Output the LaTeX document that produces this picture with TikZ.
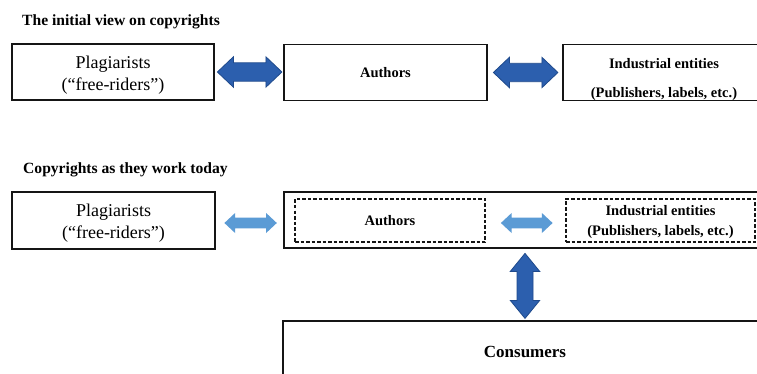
\documentclass[tikz,border=0pt]{standalone}
\usepackage{fontspec}
\setmainfont{Liberation Serif}
\usetikzlibrary{calc}
\definecolor{boxline}{HTML}{151515}
\definecolor{darkarr}{HTML}{2C5FAE}
\definecolor{darkarrline}{HTML}{1F4A8C}
\definecolor{lightarr}{HTML}{5B9BD5}
% horizontal double block arrow: #1 style, #2 left tip, #3 length, #4 head length, #5 head half width, #6 shaft half width
\newcommand{\hdblarrow}[6]{%
  \path[#1] (#2) -- ++(#4,-#5) -- ++(0,{#5-#6}) -- ++({#3-2*#4},0) -- ++(0,{-(#5-#6)})
    -- ++(#4,#5) -- ++(-#4,#5) -- ++(0,{-(#5-#6)}) -- ++({-(#3-2*#4)},0) -- ++(0,{#5-#6}) -- cycle;}
% vertical double block arrow: #2 top tip
\newcommand{\vdblarrow}[6]{%
  \path[#1] (#2) -- ++(-#5,#4) -- ++({#5-#6},0) -- ++(0,{#3-2*#4}) -- ++({-(#5-#6)},0)
    -- ++(#5,#4) -- ++(#5,-#4) -- ++({-(#5-#6)},0) -- ++(0,{-(#3-2*#4)}) -- ++({#5-#6},0) -- cycle;}
\begin{document}
\begin{tikzpicture}[x=1pt,y=-1pt,
  box/.style={draw=boxline, line width=1.8pt, inner sep=0pt, fill=white},
  dbox/.style={draw=boxline, line width=1.8pt, inner sep=0pt, dash pattern=on 3.5pt off 2pt},
  title/.style={font=\bfseries\fontsize{15.6}{18}\selectfont, inner sep=0pt, anchor=base west},
  regtxt/.style={font=\fontsize{18}{22}\selectfont, align=center, inner sep=0pt},
  boldtxt/.style={font=\bfseries\fontsize{14.5}{20}\selectfont, align=center, inner sep=0pt},
  darkfill/.style={fill=darkarr, draw=darkarrline, line width=0.8pt, line join=miter},
  lightfill/.style={fill=lightarr}
]
\clip (0,0) rectangle (757,374);
\fill[white] (0,0) rectangle (757,374);

% titles
\node[title] (t1) at (22,26) {The initial view on copyrights};
\node[title] (t2) at (23,174) {Copyrights as they work today};

% top row
\node[box, minimum width=202, minimum height=56] (pl1) at (113,72) {};
\node[regtxt] (pl1t) at ($(pl1.center)+(0,3.5)$) {Plagiarists\\(“free-riders”)};
\node[box, minimum width=203, minimum height=56] (au1) at (385.5,72.5) {};
\node[boldtxt] (au1t) at (au1.center) {Authors};
\node[box, minimum width=202, minimum height=56] (in1) at (664,72.5) {};
\node[boldtxt, font=\bfseries\fontsize{14.5}{29}\selectfont] (in1t) at ($(in1.center)+(0,7.5)$) {Industrial entities\\(Publishers, labels, etc.)};

\hdblarrow{darkfill}{$(pl1.east)+(2.5,0)$}{64.5}{16}{15.2}{9.2}
\hdblarrow{darkfill}{$(au1.east)+(5.5,0)$}{64.5}{16}{15.2}{9.2}

% bottom row
\node[box, minimum width=203, minimum height=57] (pl2) at (113.5,220.5) {};
\node[regtxt] (pl2t) at ($(pl2.center)+(0,2.5)$) {Plagiarists\\(“free-riders”)};
\node[box, minimum width=483, minimum height=56] (sys) at (525.5,220) {};
\node[dbox, minimum width=190, minimum height=43] (au2) at (390,220.5) {};
\node[boldtxt] (au2t) at (au2.center) {Authors};
\node[dbox, minimum width=189, minimum height=43] (in2) at (660.5,220.5) {};
\node[boldtxt] (in2t) at ($(in2.center)+(0,1.5)$) {Industrial entities\\(Publishers, labels, etc.)};

\hdblarrow{lightfill}{$(pl2.east)+(8.5,2.5)$}{52.4}{10.7}{10}{5.3}
\hdblarrow{lightfill}{$(au2.east)+(15,2.5)$}{51.7}{10.7}{10}{5.3}

\node[box, minimum width=484, minimum height=62] (con) at (525,352) {};
\node[font=\bfseries\fontsize{17}{20}\selectfont, inner sep=0pt] (cont) at (con.center) {Consumers};

\vdblarrow{darkfill}{$(sys.south)+(-0.5,4.5)$}{65}{18}{14.7}{8}
\end{tikzpicture}
\end{document}
